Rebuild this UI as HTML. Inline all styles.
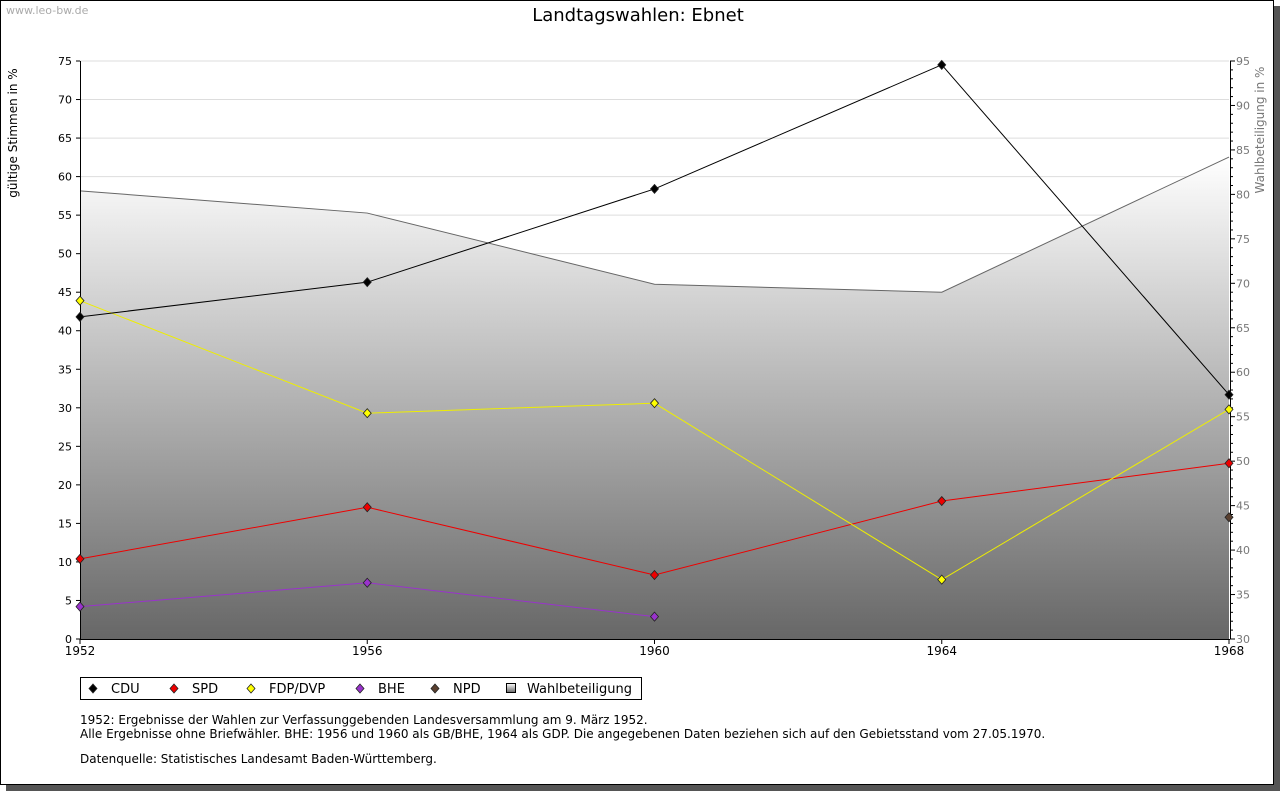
<!DOCTYPE html>
<html><head><meta charset="utf-8"><style>
body{margin:0;background:#fff;width:1280px;height:791px;overflow:hidden;font-family:"Liberation Sans","DejaVu Sans",sans-serif}
svg text{font-family:"DejaVu Sans","Liberation Sans",sans-serif}
</style></head><body>
<svg id="c" width="1280" height="791" xmlns="http://www.w3.org/2000/svg">
<defs><linearGradient id="g" x1="0" y1="0" x2="0" y2="1"><stop offset="0" stop-color="#ffffff"/><stop offset="1" stop-color="#676767"/></linearGradient></defs>
<rect x="6" y="6" width="1274" height="785" fill="#555"/>
<rect x="0.5" y="0.5" width="1273" height="784" fill="#fff" stroke="#000"/>
<text x="6" y="14" font-size="11" fill="#aaa">www.leo-bw.de</text>
<text x="638" y="21" font-size="18" text-anchor="middle">Landtagswahlen: Ebnet</text>
<text transform="translate(17,133) rotate(-90)" font-size="12" text-anchor="middle">gültige Stimmen in %</text>
<text transform="translate(1264,130) rotate(-90)" font-size="12" fill="#777" text-anchor="middle">Wahlbeteiligung in %</text>
<g id="plot"></g>
<g>
<rect x="80.5" y="677.5" width="561" height="22" fill="#fff" stroke="#000"/>
</g>
<g id="leg"></g>
<text x="80" y="724" font-size="12">1952: Ergebnisse der Wahlen zur Verfassunggebenden Landesversammlung am 9. März 1952.</text>
<text x="80" y="738" font-size="12">Alle Ergebnisse ohne Briefwähler. BHE: 1956 und 1960 als GB/BHE, 1964 als GDP. Die angegebenen Daten beziehen sich auf den Gebietsstand vom 27.05.1970.</text>
<text x="80" y="763" font-size="12">Datenquelle: Statistisches Landesamt Baden-Württemberg.</text>
</svg>
<script>
const years=[1952,1956,1960,1964,1968];
const cdu=[41.8,46.3,58.4,74.5,31.7];
const spd=[10.4,17.1,8.3,17.9,22.8];
const fdp=[43.9,29.3,30.6,7.7,29.8];
const bhe=[4.2,7.3,2.9,null,null];
const npd=[null,null,null,null,15.8];
const turnout=[80.4,77.9,69.9,69.0,84.2];
const yTicks=[0,5,10,15,20,25,30,35,40,45,50,55,60,65,70,75];
const y2Ticks=[30,35,40,45,50,55,60,65,70,75,80,85,90,95];
const NS="http://www.w3.org/2000/svg";
const L=80,R=1229,T=61,B=639;
const x=i=>L+(R-L)*(years[i]-years[0])/(years[years.length-1]-years[0]);
const y=v=>B-(B-T)*v/75;
const y2=v=>B-(B-T)*(v-30)/65;
const P=document.getElementById('plot');
function mk(t,a,p){const e=document.createElementNS(NS,t);for(const k in a)e.setAttribute(k,a[k]);(p||P).appendChild(e);return e;}
// grid
yTicks.forEach(v=>{if(v>0){const g=mk('line',{x1:L,x2:R,y1:y(v),y2:y(v),stroke:'#ddd'});

}
const t=mk('text',{x:L-8,y:y(v)+4,'font-size':11,'text-anchor':'end'});t.textContent=v;


mk('line',{x1:L-4,x2:L,y1:y(v),y2:y(v),stroke:'#000'});});
// turnout area
let d='M'+x(0)+','+B;turnout.forEach((v,i)=>d+=' L'+x(i)+','+y2(v));d+=' L'+x(4)+','+B+'Z';
const area=mk('path',{d:d,fill:'url(#g)'});


const tl=mk('polyline',{points:turnout.map((v,i)=>x(i)+','+y2(v)).join(' '),fill:'none',stroke:'#666'});


// axes
mk('line',{x1:L+.5,x2:L+.5,y1:T,y2:B,stroke:'#000'});
mk('line',{x1:L,x2:R+1,y1:B+.5,y2:B+.5,stroke:'#000'});
mk('line',{x1:R+1.5,x2:R+1.5,y1:T,y2:B,stroke:'#000'});
y2Ticks.forEach(v=>{mk('line',{x1:R+1,x2:R+6,y1:y2(v),y2:y2(v),stroke:'#000'});
if(v<95)for(let k=1;k<5;k++)mk('line',{x1:R+1,x2:R+4,y1:y2(v+k),y2:y2(v+k),stroke:'#000'});
const t=mk('text',{x:R+7,y:y2(v)+4,'font-size':11,fill:'#777'});t.textContent=v;

});
years.forEach((yr,i)=>{mk('line',{x1:x(i),x2:x(i),y1:B,y2:B+5,stroke:'#000'});
const t=mk('text',{x:x(i),y:B+16,'font-size':12,'text-anchor':'middle'});t.textContent=yr;

});
function series(vals,color,fill,name){
 let pts=[];vals.forEach((v,i)=>{if(v!=null)pts.push(x(i)+','+y(v));});
 if(pts.length>1){const l=mk('polyline',{points:pts.join(' '),fill:'none',stroke:color});
 
 }
 vals.forEach((v,i)=>{if(v==null)return;const c=mk('path',{d:`M${x(i)},${y(v)-4.5} L${x(i)+4},${y(v)} L${x(i)},${y(v)+4.5} L${x(i)-4},${y(v)}Z`,fill:fill,stroke:'#222','stroke-width':.8});
 
 });
}
series(bhe,'#9933cc','#9933cc','bhe');
series(spd,'#ee0000','#ee0000','spd');
series(fdp,'#eeee00','#ffff00','fdp');
series(cdu,'#000','#000','cdu');
series(npd,'#5a4030','#5a4030','npd');
// legend
const G=document.getElementById('leg');
const leg=[['CDU','#000',90],['SPD','#ee0000',171],['FDP/DVP','#ffff00',248],['BHE','#9933cc',357],['NPD','#5a4030',432]];
leg.forEach(([n,c,lx])=>{mk('path',{d:`M${lx+3},684 L${lx+7},688.5 L${lx+3},693 L${lx-1},688.5Z`,fill:c,stroke:'#222','stroke-width':.8},G);
const t=mk('text',{x:lx+21,y:693,'font-size':13},G);t.textContent=n;

});
mk('rect',{x:506.5,y:683.5,width:9,height:9,fill:'url(#g)',stroke:'#000'},G);
const wt=mk('text',{x:527,y:693,'font-size':13},G);wt.textContent='Wahlbeteiligung';


</script>
</body></html>
